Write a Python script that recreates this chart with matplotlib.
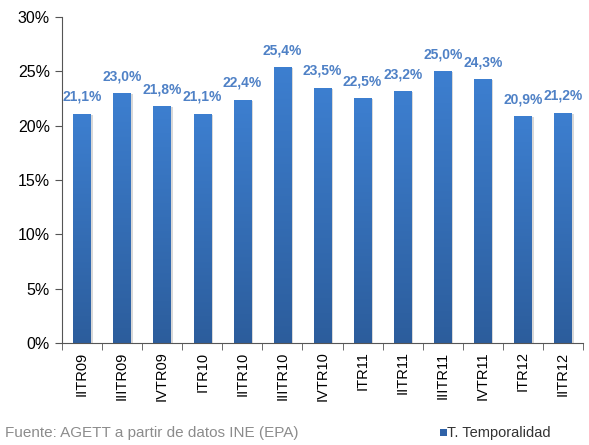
import matplotlib
matplotlib.use("Agg")
import matplotlib.pyplot as plt
import numpy as np
from matplotlib.patches import Rectangle
import matplotlib.transforms as mtransforms
from matplotlib.colors import LinearSegmentedColormap

plt.rcParams['font.family'] = ['Liberation Sans', 'DejaVu Sans']

categories = ["IITR09", "IIITR09", "IVTR09", "ITR10", "IITR10", "IIITR10", "IVTR10",
              "ITR11", "IITR11", "IIITR11", "IVTR11", "ITR12", "IITR12"]
values = [21.1, 23.0, 21.8, 21.1, 22.4, 25.4, 23.5, 22.5, 23.2, 25.0, 24.3, 20.9, 21.2]
yticks = [0, 5, 10, 15, 20, 25, 30]

fig = plt.figure(figsize=(5.89, 4.45), dpi=100)
ax = fig.add_axes([0.105, 0.229, 0.885, 0.733])

x = np.arange(len(categories))
width = 0.43
grad = np.linspace(0, 1, 256).reshape(-1, 1)
cmap = LinearSegmentedColormap.from_list("g", ["#2c5d9c", "#3d7fd0"])

# shadows
shadow_off = mtransforms.offset_copy(ax.transData, fig=fig, x=2, y=-1, units='dots')
for xi, v in zip(x, values):
    ax.add_patch(Rectangle((xi - width / 2, 0), width, v, facecolor="#d8d8d8",
                           edgecolor="none", transform=shadow_off, zorder=1))

bars = ax.bar(x, values, width=width, color="none", edgecolor="none", zorder=2)
for b in bars:
    x0 = b.get_x()
    w, h = b.get_width(), b.get_height()
    im = ax.imshow(grad, extent=[x0, x0 + w, 0, h], origin="lower", cmap=cmap,
                   aspect="auto", zorder=2, vmin=0, vmax=1)
    im.set_clip_path(b)

for xi, v in zip(x, values):
    ax.annotate(f"{v:.1f}%".replace(".", ","), (xi, v), xytext=(0, 7),
                textcoords="offset points", ha="center", va="bottom",
                fontsize=10, fontweight="bold", color="#4f81c6")

ax.set_xlim(-0.5, len(categories) - 0.5)
ax.set_ylim(0, 30)
ax.set_yticks(yticks)
ax.set_yticklabels([f"{t}%" for t in yticks], fontsize=11.5)
ax.set_xticks(x)
ax.set_xticklabels(categories, rotation=90, fontsize=10.5)
ax.tick_params(axis='x', length=0, pad=6)
ax.set_xticks(np.arange(-0.5, len(categories), 1), minor=True)
ax.tick_params(axis='x', which='minor', length=5, direction='out', color="#555555")
ax.tick_params(axis='y', length=5, direction='out', color="#555555")
for s in ["top", "right"]:
    ax.spines[s].set_visible(False)
for s in ["left", "bottom"]:
    ax.spines[s].set_color("#555555")

fig.text(0.008, 0.027, "Fuente: AGETT a partir de datos INE (EPA)", fontsize=11,
         color="#8c8c8c", ha="left", va="center")
fig.patches.append(Rectangle((0.747, 0.021), 0.012, 0.016, transform=fig.transFigure,
                             facecolor="#2f62a8", edgecolor="none", figure=fig))
fig.text(0.759, 0.027, "T. Temporalidad", fontsize=10.5, color="#333333",
         ha="left", va="center")

fig.savefig("out.png", dpi=100)
